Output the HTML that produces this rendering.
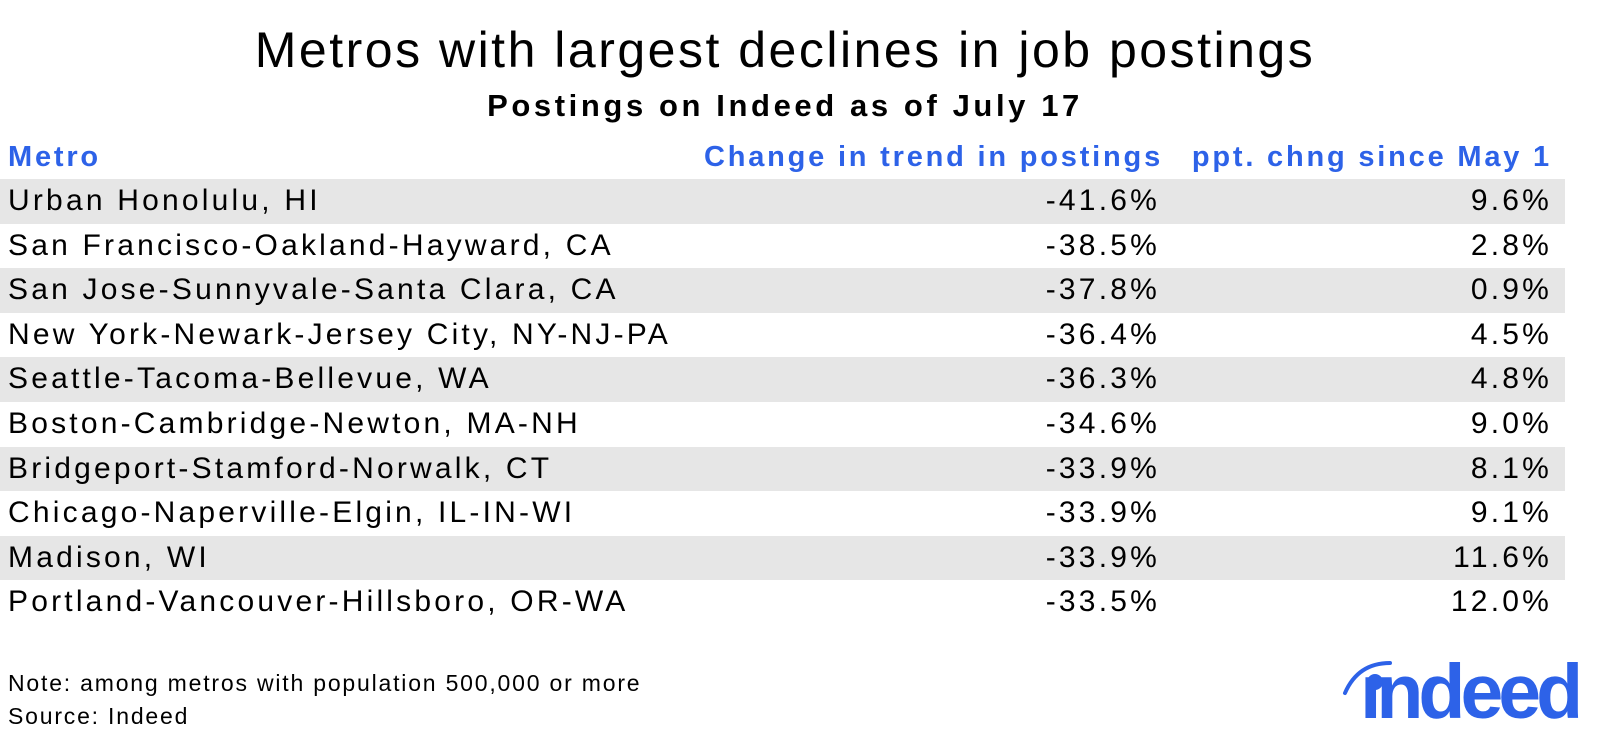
<!DOCTYPE html>
<html><head><style>
body{margin:0;width:1600px;height:751px;background:#fff;font-family:"Liberation Sans",sans-serif;position:relative;overflow:hidden;color:#000}
.t{position:absolute;white-space:nowrap}
.row{position:absolute;left:0;width:1565px;height:44.6px}
.g{background:#e6e6e6}
.row span{position:absolute;top:5px;font-size:30px;line-height:34px;letter-spacing:3.2px}
.a{left:8px}.b{right:405px}.c{right:13px}
.h{color:#2d62e8;font-weight:bold;font-size:29px;letter-spacing:2.8px}
</style></head><body>
<div class="t" style="left:0;width:1570px;text-align:center;top:22px;font-size:50px;line-height:56px;letter-spacing:2.5px">Metros with largest declines in job postings</div>
<div class="t" style="left:0;width:1570px;text-align:center;top:88px;font-size:31px;font-weight:bold;line-height:36px;letter-spacing:3.6px">Postings on Indeed as of July 17</div>
<div class="t h" style="left:8px;top:141px">Metro</div>
<div class="t h" style="right:437px;top:141px">Change in trend in postings</div>
<div class="t h" style="right:48px;top:141px">ppt. chng since May 1</div>
<div class="row g" style="top:179px"><span class="a">Urban Honolulu, HI</span><span class="b">-41.6%</span><span class="c">9.6%</span></div>
<div class="row" style="top:223.6px"><span class="a">San Francisco-Oakland-Hayward, CA</span><span class="b">-38.5%</span><span class="c">2.8%</span></div>
<div class="row g" style="top:268.2px"><span class="a">San Jose-Sunnyvale-Santa Clara, CA</span><span class="b">-37.8%</span><span class="c">0.9%</span></div>
<div class="row" style="top:312.8px"><span class="a">New York-Newark-Jersey City, NY-NJ-PA</span><span class="b">-36.4%</span><span class="c">4.5%</span></div>
<div class="row g" style="top:357.4px"><span class="a">Seattle-Tacoma-Bellevue, WA</span><span class="b">-36.3%</span><span class="c">4.8%</span></div>
<div class="row" style="top:402px"><span class="a">Boston-Cambridge-Newton, MA-NH</span><span class="b">-34.6%</span><span class="c">9.0%</span></div>
<div class="row g" style="top:446.6px"><span class="a">Bridgeport-Stamford-Norwalk, CT</span><span class="b">-33.9%</span><span class="c">8.1%</span></div>
<div class="row" style="top:491.2px"><span class="a">Chicago-Naperville-Elgin, IL-IN-WI</span><span class="b">-33.9%</span><span class="c">9.1%</span></div>
<div class="row g" style="top:535.8px"><span class="a">Madison, WI</span><span class="b">-33.9%</span><span class="c">11.6%</span></div>
<div class="row" style="top:580.4px"><span class="a">Portland-Vancouver-Hillsboro, OR-WA</span><span class="b">-33.5%</span><span class="c">12.0%</span></div>
<div class="t" style="left:8px;top:670px;font-size:23px;letter-spacing:1.8px">Note: among metros with population 500,000 or more</div>
<div class="t" style="left:8px;top:703px;font-size:23px;letter-spacing:1.8px">Source: Indeed</div>
<svg style="position:absolute;left:1340px;top:655px" width="60" height="45"><path d="M5 38 Q18 8 50 8" stroke="#2d62e8" stroke-width="4" fill="none" stroke-linecap="round"/></svg>
<div class="t" style="left:1360px;top:654px;font-size:77px;font-weight:bold;color:#2d62e8;letter-spacing:-5px;line-height:77px">ındeed</div>
<div style="position:absolute;left:1367px;top:674px;width:16px;height:16px;border-radius:50%;background:#2d62e8"></div>
</body></html>
